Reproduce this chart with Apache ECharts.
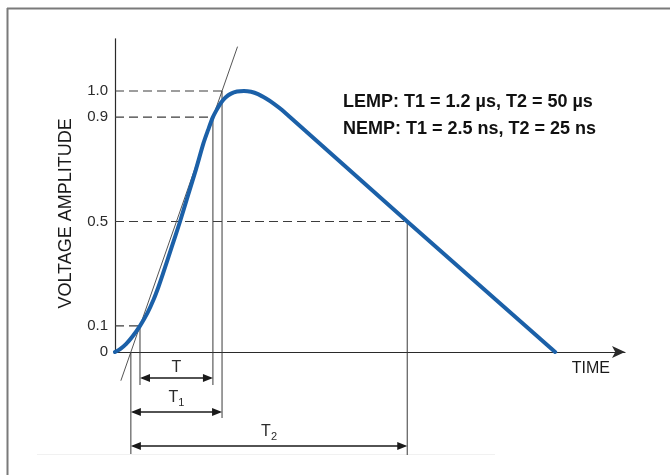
<!DOCTYPE html>
<html>
<head>
<meta charset="utf-8">
<script src="https://cdn.jsdelivr.net/npm/echarts@6/dist/echarts.min.js"></script>
<style>
  html, body { margin: 0; padding: 0; background: #ffffff; }
  #chart { width: 670px; height: 475px; }
</style>
</head>
<body>
<div id="chart"></div>
<script>
// Normalised impulse waveform (voltage vs. time, arbitrary time units)
const pulseTime = [0, 1.0, 2.2, 3.5, 4.9, 6.37, 7.55, 8.53, 9.41, 11.08, 12.75, 14.31, 15.88, 17.35, 18.24, 19.2,
                   20.0, 20.78, 21.67, 22.75, 23.92, 25.29, 26.67, 28.04, 29.61, 31.18, 32.75, 57.3, 86.3];
const pulseVolt = [0, 0.011, 0.031, 0.061, 0.1, 0.15, 0.2, 0.25, 0.3, 0.4, 0.5, 0.6, 0.7, 0.8, 0.85, 0.9,
                   0.93, 0.955, 0.975, 0.99, 0.998, 1.0, 0.997, 0.988, 0.971, 0.951, 0.927, 0.5, 0];

// Voltage axis ticks that carry a label
const voltTicks = [0, 0.1, 0.5, 0.9, 1.0];
const voltTickText = ['0', '0.1', '0.5', '0.9', '1.0'];

// Reference crossings: 10 % and 90 % on the front, 50 % on the tail
const frontLevels = [0.1, 0.9];
const frontTimes = [4.9, 19.2];
const tailLevel = 0.5;
const tailTime = 57.3;

// Time-parameter dimension names
const dimNames = ['T', 'T1', 'T2'];

// Parameter notes
const notes = ['LEMP: T1 = 1.2 µs, T2 = 50 µs', 'NEMP: T1 = 2.5 ns, T2 = 25 ns'];

// Virtual front: straight line through the 10 % and 90 % points,
// extended down to 0 (virtual origin) and up to 1.0 (peak level)
const frontSlope = (frontLevels[1] - frontLevels[0]) / (frontTimes[1] - frontTimes[0]);
const virtualOrigin = frontTimes[0] - frontLevels[0] / frontSlope;
const virtualPeak = frontTimes[1] + (1.0 - frontLevels[1]) / frontSlope;

const FONT = "'Liberation Sans', Arial, Helvetica, sans-serif";
const INK = '#2b2b2b';

// Construction geometry (data coordinates; offsets below the time axis in px)
const shapes = [
  { kind: 'dash', from: [0, frontLevels[0]], to: [frontTimes[0], frontLevels[0]] },
  { kind: 'dash', from: [0, frontLevels[1]], to: [frontTimes[1], frontLevels[1]] },
  { kind: 'dash', from: [0, 1.0], to: [virtualPeak, 1.0] },
  { kind: 'dash', from: [0, tailLevel], to: [tailTime, tailLevel] },
  { kind: 'front', from: [virtualOrigin - 0.11 / frontSlope, -0.11], to: [virtualOrigin + 1.17 / frontSlope, 1.17] },
  { kind: 'drop', from: [virtualOrigin, 0], depth: 102 },
  { kind: 'drop', from: [frontTimes[0], frontLevels[0]], depth: 33 },
  { kind: 'drop', from: [frontTimes[1], frontLevels[1]], depth: 33 },
  { kind: 'drop', from: [virtualPeak, 1.0], depth: 66 },
  { kind: 'drop', from: [tailTime, tailLevel], depth: 103 },
  { kind: 'dim', from: [frontTimes[0], 0], to: [frontTimes[1], 0], depth: 26, name: dimNames[0], lift: 10 },
  { kind: 'dim', from: [virtualOrigin, 0], to: [virtualPeak, 0], depth: 60, name: dimNames[1], lift: 14 },
  { kind: 'dim', from: [virtualOrigin, 0], to: [tailTime, 0], depth: 94, name: dimNames[2], lift: 14 }
];

function arrowHead(x, y, dir) {
  const len = 10, half = 4;
  return {
    type: 'polygon',
    shape: { points: [[x, y], [x + dir * len, y - half], [x + dir * len, y + half]] },
    style: { fill: '#1a1a1a' }
  };
}

function dimLabel(cx, cy, name) {
  const main = name.charAt(0);
  const sub = name.slice(1);
  const mainSize = 16, subSize = 11;
  const mainW = mainSize * 0.611, subW = sub ? subSize * 0.556 : 0;
  const x0 = cx - (mainW + subW) / 2;
  const items = [{
    type: 'text',
    style: { text: main, x: x0, y: cy, align: 'left', verticalAlign: 'middle',
             font: mainSize + 'px ' + FONT, fill: INK }
  }];
  if (sub) {
    items.push({
      type: 'text',
      style: { text: sub, x: x0 + mainW, y: cy + 5, align: 'left', verticalAlign: 'middle',
               font: subSize + 'px ' + FONT, fill: INK }
    });
  }
  return items;
}

function renderConstruction(params, api) {
  const s = shapes[params.dataIndex];
  const base = api.coord([0, 0])[1];
  const a = api.coord(s.from);
  if (s.kind === 'dash') {
    const b = api.coord(s.to);
    return { type: 'line', shape: { x1: a[0], y1: a[1], x2: b[0], y2: b[1] },
             style: { stroke: '#3c3c3c', lineWidth: 1.2, lineDash: [9, 5] } };
  }
  if (s.kind === 'front') {
    const b = api.coord(s.to);
    return { type: 'line', shape: { x1: a[0], y1: a[1], x2: b[0], y2: b[1] },
             style: { stroke: '#555555', lineWidth: 1 } };
  }
  if (s.kind === 'drop') {
    return { type: 'line', shape: { x1: a[0], y1: a[1], x2: a[0], y2: base + s.depth },
             style: { stroke: '#3a3a3a', lineWidth: 1 } };
  }
  // dimension arrow with its label
  const b = api.coord(s.to);
  const y = base + s.depth;
  return {
    type: 'group',
    children: [
      { type: 'line', shape: { x1: a[0] + 2, y1: y, x2: b[0] - 2, y2: y },
        style: { stroke: '#1a1a1a', lineWidth: 1.3 } },
      arrowHead(a[0], y, 1),
      arrowHead(b[0], y, -1)
    ].concat(dimLabel((a[0] + b[0]) / 2, y - s.lift, s.name))
  };
}

const chart = echarts.init(document.getElementById('chart'), null, { renderer: 'canvas' });

chart.setOption({
  animation: false,
  backgroundColor: '#ffffff',
  grid: { left: 115, right: 45, top: 38.8, bottom: 123, containLabel: false },
  xAxis: {
    type: 'value',
    min: 0,
    max: 100,
    name: 'TIME',
    nameLocation: 'end',
    nameGap: -15,
    nameTextStyle: { fontFamily: FONT, fontSize: 16, color: '#1a1a1a', align: 'right', verticalAlign: 'top', padding: [9, 0, 0, 0] },
    axisLine: { show: true, symbol: ['none', 'arrow'], symbolSize: [9, 13], lineStyle: { color: '#2a2a2a', width: 1.2 } },
    axisTick: { show: false },
    axisLabel: { show: false },
    splitLine: { show: false }
  },
  yAxis: {
    type: 'value',
    min: 0,
    max: 1.2,
    interval: 0.1,
    name: 'VOLTAGE AMPLITUDE',
    nameLocation: 'middle',
    nameGap: 40,
    nameTextStyle: { fontFamily: FONT, fontSize: 18, color: '#1a1a1a', padding: [0, 36, 0, 0] },
    axisLine: { show: true, lineStyle: { color: '#2a2a2a', width: 1.2 } },
    axisTick: { show: false },
    splitLine: { show: false },
    axisLabel: {
      margin: 7,
      fontFamily: FONT,
      fontSize: 15,
      color: '#2b2b2b',
      formatter: function (v) {
        const i = voltTicks.findIndex(function (t) { return Math.abs(t - v) < 1e-6; });
        return i < 0 ? '' : voltTickText[i];
      }
    }
  },
  graphic: [
    { type: 'line', shape: { x1: 7.5, y1: 8, x2: 7.5, y2: 475 }, style: { stroke: '#7a7a7a', lineWidth: 2 }, silent: true },
    { type: 'line', shape: { x1: 7, y1: 8.5, x2: 670, y2: 8.5 }, style: { stroke: '#7a7a7a', lineWidth: 2 }, silent: true },
    { type: 'line', shape: { x1: 37, y1: 454.5, x2: 495, y2: 454.5 }, style: { stroke: '#f1f1f1', lineWidth: 1 }, silent: true },
    {
      type: 'text',
      left: 343,
      top: 89,
      style: { text: notes.join('\n'), font: 'bold 18px ' + FONT, fill: '#111111', lineHeight: 27 },
      silent: true
    }
  ],
  series: [
    {
      type: 'custom',
      name: 'construction',
      coordinateSystem: 'cartesian2d',
      clip: false,
      silent: true,
      z: 1,
      data: shapes.map(function (s) { return [s.from[0], s.from[1]]; }),
      encode: { x: 0, y: 1 },
      renderItem: renderConstruction
    },
    {
      type: 'line',
      name: 'voltage',
      z: 3,
      data: pulseTime.map(function (t, i) { return [t, pulseVolt[i]]; }),
      smooth: 0.3,
      showSymbol: false,
      symbol: 'none',
      clip: false,
      lineStyle: { color: '#1b60a8', width: 4, cap: 'round', join: 'round' }
    }
  ]
});
</script>
</body>
</html>
